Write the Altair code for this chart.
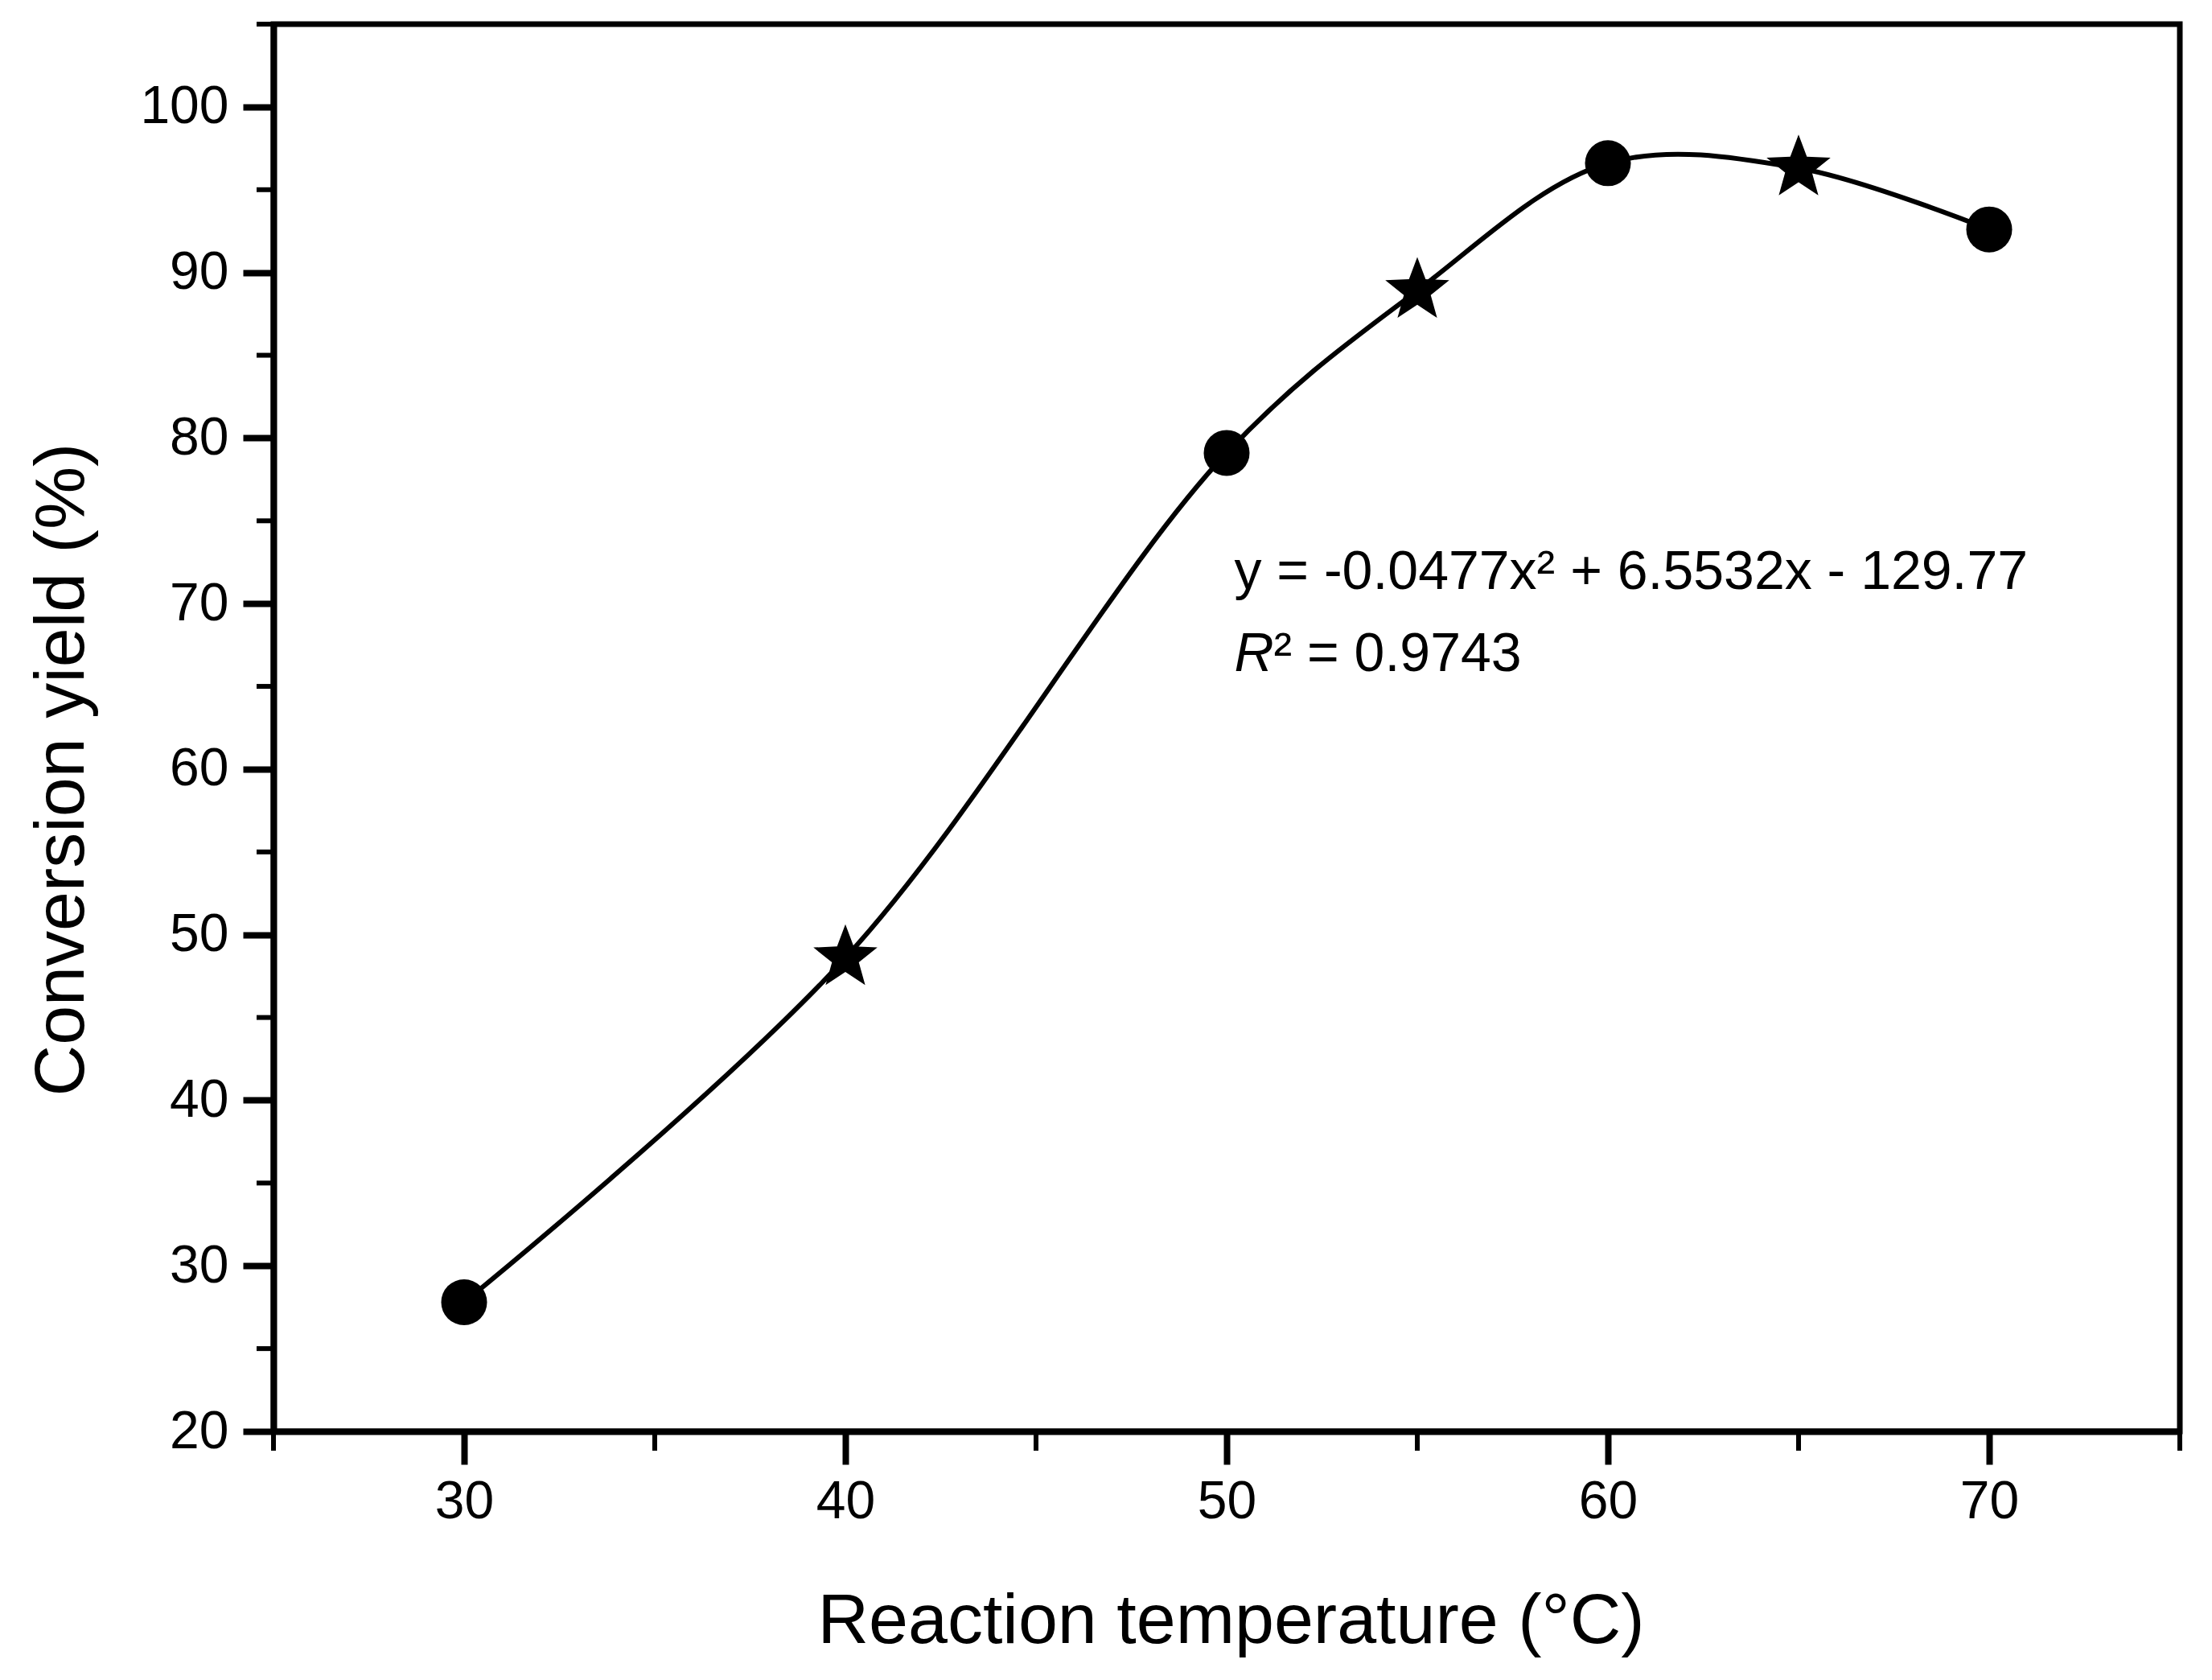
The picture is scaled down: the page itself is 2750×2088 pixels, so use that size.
import altair as alt
import pandas as pd

# ---- data ----
temps = [30, 40, 50, 55, 60, 65, 70]
yields = [27.8, 48.6, 79.1, 88.9, 96.6, 96.3, 92.6]
markers = ["circle", "star", "circle", "star", "circle", "star", "circle"]

x_major_ticks = [30, 40, 50, 60, 70]
x_minor_ticks = [25, 35, 45, 55, 65, 75]
y_major_ticks = [20, 30, 40, 50, 60, 70, 80, 90, 100]
y_minor_ticks = [25, 35, 45, 55, 65, 75, 85, 95, 105]

eq_text = "y = -0.0477x² + 6.5532x - 129.77"
r_text = "R"
r2_rest = "² = 0.9743"
ann_x = 50.2
eq_y = 70.9
r2_y = 65.95

FONT = "Liberation Sans"
W, H = 2370, 1749

# five-pointed star in the unit box (-1..1)
STAR = ("M0,-1L0.2469,-0.3398L0.9511,-0.309L0.3994,0.1298L0.5878,0.809"
        "L0,0.42L-0.5878,0.809L-0.3994,0.1298L-0.9511,-0.309L-0.2469,-0.3398Z")

df = pd.DataFrame({"temp": temps, "yield": yields, "marker": markers})
xminor_df = pd.DataFrame({"temp": x_minor_ticks})
yminor_df = pd.DataFrame({"yield": y_minor_ticks})

xs = alt.Scale(domain=[25, 75], nice=False, zero=False)
ys = alt.Scale(domain=[20, 105], nice=False, zero=False)

x_axis = alt.Axis(
    values=x_major_ticks, orient="bottom", format="d", grid=False,
    tickSize=41, tickWidth=8, tickColor="black",
    domainWidth=8, domainColor="black",
    labelFontSize=66, labelPadding=14, labelColor="black", labelFont=FONT,
    title="Reaction temperature (°C)", titleFontSize=88, titleFont=FONT,
    titleFontWeight="normal", titleColor="black",
    titleX=1190, titleY=262, titleBaseline="alphabetic", titleAlign="center",
)
y_axis = alt.Axis(
    values=y_major_ticks, orient="left", format="d", grid=False,
    tickSize=38, tickWidth=8, tickColor="black",
    domainWidth=8, domainColor="black",
    labelFontSize=66, labelPadding=18, labelColor="black", labelFont=FONT,
    title="Conversion yield (%)", titleFontSize=88, titleFont=FONT,
    titleFontWeight="normal", titleColor="black",
    titleX=-237, titleY=926, titleAngle=270, titleBaseline="alphabetic",
    titleAlign="center",
)

X = alt.X("temp:Q", scale=xs, axis=x_axis)
Y = alt.Y("yield:Q", scale=ys, axis=y_axis)

line = alt.Chart(df).mark_line(
    color="black", strokeWidth=6, interpolate="catmull-rom"
).encode(x=X, y=Y)

# minor ticks, placed through the same scales
x_minor = alt.Chart(xminor_df).mark_rule(color="black", strokeWidth=6).encode(
    x=X,
    y=alt.value(H),
    y2=alt.value(H + 24),
)
y_minor = alt.Chart(yminor_df).mark_rule(color="black", strokeWidth=6).encode(
    y=Y,
    x=alt.value(0),
    x2=alt.value(-21),
)

points = alt.Chart(df).mark_point(filled=True, color="black", opacity=1).encode(
    x=X, y=Y,
    shape=alt.Shape("marker:N", scale=alt.Scale(domain=["circle", "star"], range=["circle", STAR]), legend=None),
    size=alt.Size("marker:N", scale=alt.Scale(domain=["circle", "star"], range=[3250, 7000]), legend=None),
)

ann_df = pd.DataFrame({"temp": [ann_x], "yield": [eq_y], "eq": [eq_text]})
ann2_df = pd.DataFrame({"temp": [ann_x], "yield": [r2_y],
                        "r": [r_text], "r2": [r2_rest]})

eq = alt.Chart(ann_df).mark_text(
    align="left", baseline="alphabetic", fontSize=68, font=FONT, color="black"
).encode(x=X, y=Y, text="eq:N")
r_it = alt.Chart(ann2_df).mark_text(
    align="left", baseline="alphabetic", fontSize=68, font=FONT, color="black",
    fontStyle="italic"
).encode(x=X, y=Y, text="r:N")
r_rest = alt.Chart(ann2_df).mark_text(
    align="left", baseline="alphabetic", fontSize=68, font=FONT, color="black",
    dx=49
).encode(x=X, y=Y, text="r2:N")

chart = alt.layer(line, x_minor, y_minor, points, eq, r_it, r_rest).properties(
    width=W, height=H,
    autosize=alt.AutoSizeParams(type="none"),
    padding={"left": 332, "top": 22, "right": 25, "bottom": 300},
    background="white",
).configure_view(
    stroke="black", strokeWidth=7
)

chart.save("out.html", embed_options={"renderer": "svg", "actions": False})
